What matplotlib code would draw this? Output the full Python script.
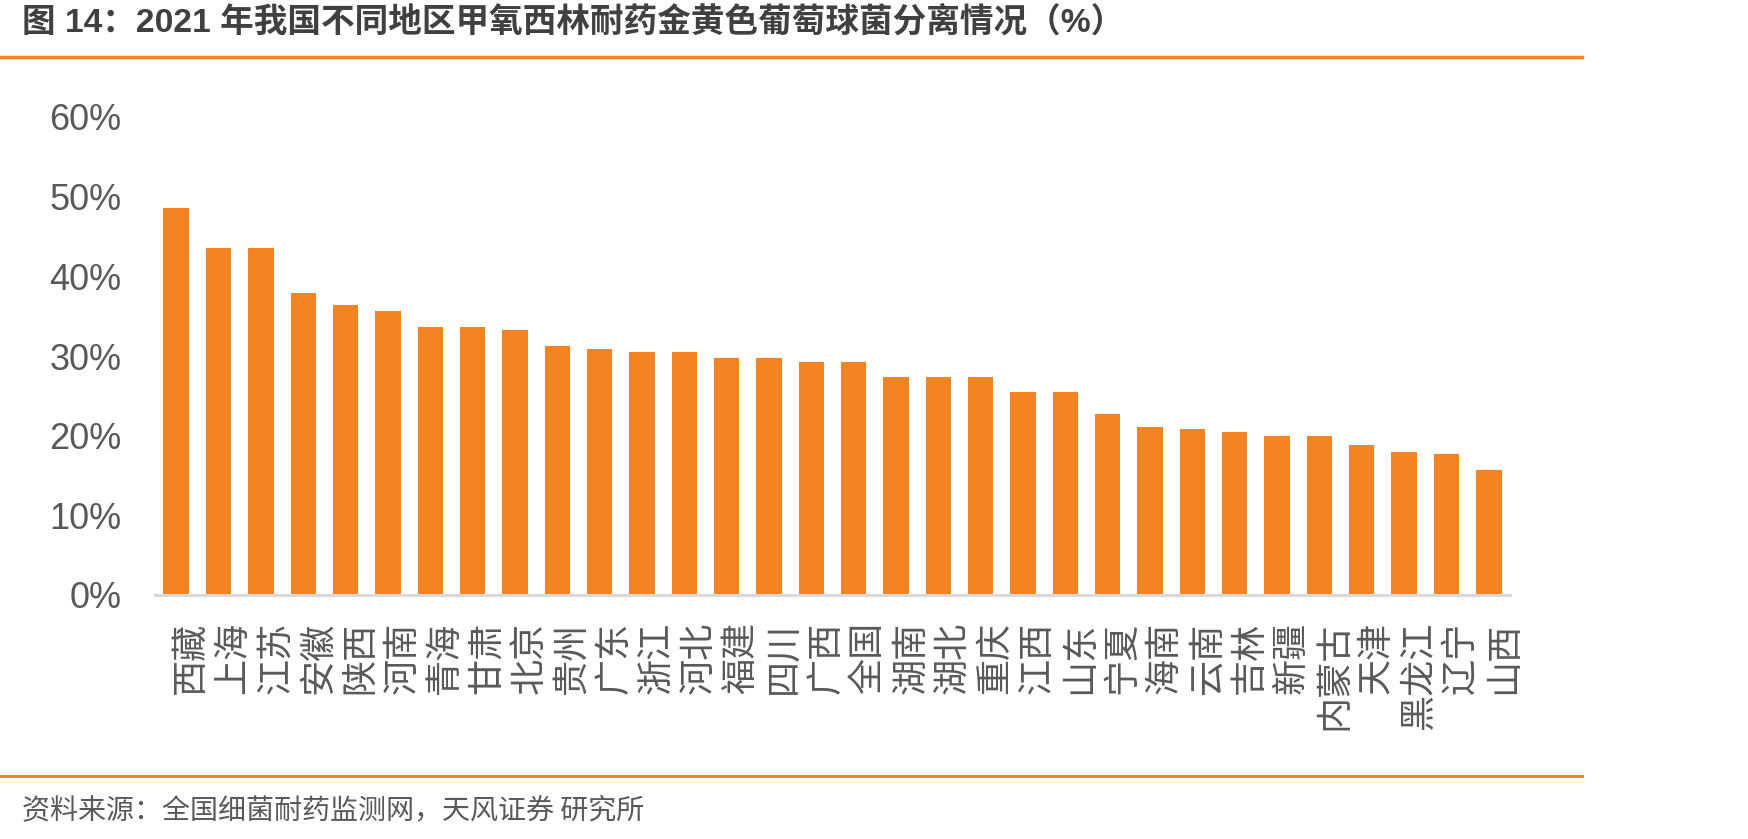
import matplotlib
matplotlib.use("Agg")
import matplotlib.pyplot as plt
from matplotlib.lines import Line2D
from matplotlib.ticker import FuncFormatter
import numpy as np

plt.rcParams['font.family'] = ['Liberation Sans', 'Noto Sans CJK SC', 'DejaVu Sans']

regions = ["西藏", "上海", "江苏", "安徽", "陕西", "河南", "青海", "甘肃", "北京", "贵州",
           "广东", "浙江", "河北", "福建", "四川", "广西", "全国", "湖南", "湖北", "重庆",
           "江西", "山东", "宁夏", "海南", "云南", "吉林", "新疆", "内蒙古", "天津", "黑龙江",
           "辽宁", "山西"]
rates = [48.6, 43.5, 43.5, 37.9, 36.4, 35.6, 33.7, 33.7, 33.3, 31.3,
         30.9, 30.5, 30.5, 29.8, 29.8, 29.3, 29.3, 27.4, 27.4, 27.4,
         25.5, 25.5, 22.7, 21.1, 20.8, 20.4, 19.9, 19.9, 18.8, 18.0,
         17.7, 15.7]
yticks = [0, 10, 20, 30, 40, 50, 60]

title = "图 14：2021 年我国不同地区甲氧西林耐药金黄色葡萄球菌分离情况（%）"
source = "资料来源：全国细菌耐药监测网，天风证券 研究所"

ORANGE = "#F38424"
GRAY = "#595959"

W, H = 1749, 839
fig = plt.figure(figsize=(W / 100, H / 100), dpi=100)

ax_left, ax_right = 155, 1510
ax_bottom, ax_top = 595, 117
ax = fig.add_axes([ax_left / W, 1 - ax_bottom / H, (ax_right - ax_left) / W, (ax_bottom - ax_top) / H])

x = np.arange(len(regions))
ax.bar(x, rates, width=0.6, color=ORANGE, edgecolor="none", zorder=2)
ax.set_xlim(-0.5, len(regions) - 0.5)
ax.set_ylim(0, 60)
ax.set_yticks(yticks)
ax.yaxis.set_major_formatter(FuncFormatter(lambda v, p: f"{v:.0f}%"))
ax.set_xticks(x + 0.35)
ax.set_xticklabels(regions, rotation=90, family=['Noto Sans CJK SC'], fontsize=26, color=GRAY, va='top', ha='center')

for s in ["top", "right", "left"]:
    ax.spines[s].set_visible(False)
ax.spines["bottom"].set_color("#D9D9D9")
ax.spines["bottom"].set_linewidth(2.2)
ax.spines["bottom"].set_zorder(3)
ax.tick_params(axis="y", length=0, pad=24, labelsize=26, labelcolor=GRAY)
ax.tick_params(axis="x", length=0, pad=19)

# Title
fig.text(22 / W, 1 - 22 / H, title, fontsize=24.2, fontweight='bold', color="#404040",
         ha='left', va='center')
# Top and bottom rules
fig.add_artist(Line2D([0, 1582 / W], [1 - 56.5 / H] * 2, color=ORANGE, lw=2.5))
fig.add_artist(Line2D([0, 1582 / W], [1 - 775.5 / H] * 2, color=ORANGE, lw=2.2))
# Source
fig.text(22 / W, 1 - 810 / H, source, fontsize=20.2, color=GRAY, ha='left', va='center',
         family=['Noto Sans CJK SC'])

fig.savefig("out.png", dpi=100, facecolor="white")
